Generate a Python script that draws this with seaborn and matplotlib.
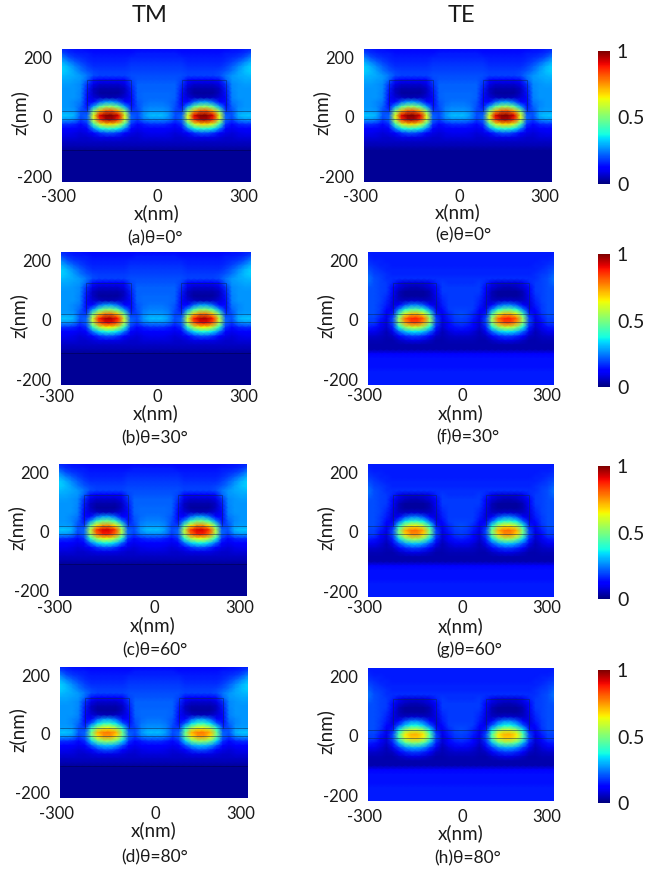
import numpy as np
import matplotlib
matplotlib.use('Agg')
import matplotlib.pyplot as plt
import matplotlib.transforms as mtransforms
import seaborn as sns

# grid of the field, left half of the period (the right half is its mirror image)
x_nodes = [-300, -280, -260, -240, -220, -200, -180, -160, -140, -120, -100, -80, -60, -40, -20, 0]
z_nodes = [230, 215, 200, 185, 170, 155, 140, 125, 110, 95, 80, 65, 50, 35, 20, 5, -10, -25, -40,
           -55, -70, -85, -100, -115, -130, -145, -160, -175, -190, -205, -220]

# normalised |E|
tm_field = [
    [.16, .15, .14, .14, .13, .13, .13, .13, .13, .13, .13, .13, .13, .13, .13, .13],
    [.20, .17, .16, .15, .15, .14, .14, .14, .14, .14, .14, .14, .15, .15, .15, .15],
    [.26, .21, .18, .17, .16, .15, .15, .15, .15, .15, .15, .16, .16, .16, .16, .16],
    [.30, .26, .22, .19, .17, .16, .16, .16, .16, .16, .16, .17, .17, .17, .17, .17],
    [.33, .30, .26, .22, .19, .17, .17, .17, .17, .17, .17, .18, .18, .18, .18, .18],
    [.33, .31, .28, .24, .21, .19, .18, .18, .18, .18, .18, .19, .19, .19, .19, .19],
    [.31, .30, .29, .27, .24, .20, .19, .19, .19, .19, .19, .20, .20, .20, .20, .20],
    [.29, .29, .28, .27, .22, .14, .12, .12, .12, .12, .13, .19, .21, .21, .21, .21],
    [.28, .28, .27, .26, .17, .09, .07, .07, .07, .07, .09, .17, .22, .22, .22, .22],
    [.27, .27, .27, .26, .15, .06, .04, .04, .04, .04, .06, .15, .22, .22, .22, .22],
    [.27, .27, .27, .25, .14, .06, .03, .03, .03, .03, .06, .14, .22, .23, .23, .23],
    [.27, .27, .27, .25, .13, .08, .06, .05, .05, .06, .08, .13, .22, .23, .23, .23],
    [.27, .27, .26, .24, .13, .13, .22, .28, .28, .22, .13, .13, .21, .23, .24, .24],
    [.27, .27, .26, .22, .14, .28, .45, .52, .52, .45, .28, .14, .20, .24, .25, .25],
    [.28, .28, .27, .20, .18, .50, .72, .82, .82, .72, .50, .18, .19, .25, .27, .27],
    [.32, .32, .30, .21, .22, .62, .92, 1.0, 1.0, .92, .62, .22, .20, .27, .31, .31],
    [.27, .27, .25, .18, .22, .60, .85, .95, .95, .85, .60, .22, .18, .24, .26, .26],
    [.17, .17, .16, .13, .17, .42, .60, .68, .68, .60, .42, .17, .13, .15, .17, .17],
    [.12, .12, .11, .10, .12, .25, .36, .40, .40, .36, .25, .12, .10, .11, .12, .12],
    [.10, .10, .09, .08, .09, .12, .17, .20, .20, .17, .12, .09, .08, .09, .10, .10],
    [.08, .08, .08, .07, .07, .08, .09, .09, .09, .09, .08, .07, .07, .08, .08, .08],
    [.06, .06, .06, .06, .06, .06, .06, .06, .06, .06, .06, .06, .06, .06, .06, .06],
    [.045, .045, .045, .045, .045, .045, .045, .045, .045, .045, .045, .045, .045, .045, .045, .045],
    [.02, .02, .02, .02, .02, .02, .02, .02, .02, .02, .02, .02, .02, .02, .02, .02],
    [.02, .02, .02, .02, .02, .02, .02, .02, .02, .02, .02, .02, .02, .02, .02, .02],
    [.02, .02, .02, .02, .02, .02, .02, .02, .02, .02, .02, .02, .02, .02, .02, .02],
    [.02, .02, .02, .02, .02, .02, .02, .02, .02, .02, .02, .02, .02, .02, .02, .02],
    [.02, .02, .02, .02, .02, .02, .02, .02, .02, .02, .02, .02, .02, .02, .02, .02],
    [.02, .02, .02, .02, .02, .02, .02, .02, .02, .02, .02, .02, .02, .02, .02, .02],
    [.02, .02, .02, .02, .02, .02, .02, .02, .02, .02, .02, .02, .02, .02, .02, .02],
    [.02, .02, .02, .02, .02, .02, .02, .02, .02, .02, .02, .02, .02, .02, .02, .02],
]

# same
te_field = [
    [.15, .15, .15, .15, .15, .15, .15, .15, .15, .15, .15, .15, .15, .15, .15, .15],
    [.16, .15, .15, .15, .15, .15, .15, .15, .15, .15, .15, .15, .15, .15, .15, .15],
    [.17, .16, .16, .15, .15, .15, .15, .15, .15, .15, .15, .15, .15, .15, .15, .15],
    [.18, .17, .16, .16, .15, .15, .15, .15, .15, .15, .15, .15, .15, .15, .15, .15],
    [.20, .18, .17, .16, .16, .16, .16, .16, .16, .16, .16, .16, .16, .16, .16, .16],
    [.22, .19, .18, .17, .16, .16, .16, .16, .16, .16, .16, .16, .16, .16, .16, .16],
    [.24, .20, .19, .17, .17, .17, .17, .17, .17, .17, .17, .17, .17, .17, .17, .17],
    [.23, .20, .19, .18, .16, .10, .08, .08, .08, .08, .10, .16, .18, .17, .17, .17],
    [.21, .20, .19, .18, .13, .08, .06, .05, .05, .06, .08, .13, .18, .18, .18, .18],
    [.20, .20, .19, .18, .11, .05, .03, .03, .03, .03, .05, .11, .18, .18, .18, .18],
    [.20, .20, .19, .17, .10, .05, .03, .03, .03, .03, .05, .10, .17, .18, .18, .18],
    [.20, .20, .19, .16, .09, .06, .06, .07, .07, .06, .06, .09, .16, .18, .18, .18],
    [.20, .20, .18, .15, .08, .12, .20, .25, .25, .20, .12, .08, .15, .18, .18, .18],
    [.20, .20, .18, .13, .10, .25, .39, .45, .45, .39, .25, .10, .13, .18, .19, .19],
    [.20, .20, .17, .10, .15, .43, .63, .71, .71, .63, .43, .15, .10, .16, .19, .20],
    [.19, .19, .15, .09, .19, .54, .80, .87, .87, .80, .54, .19, .09, .15, .18, .19],
    [.18, .18, .13, .08, .19, .52, .74, .83, .83, .74, .52, .19, .08, .13, .17, .18],
    [.15, .14, .10, .07, .15, .37, .52, .59, .59, .52, .37, .15, .07, .11, .14, .15],
    [.10, .10, .08, .05, .10, .22, .31, .35, .35, .31, .22, .10, .05, .08, .10, .10],
    [.07, .07, .06, .05, .06, .11, .16, .18, .18, .16, .11, .06, .05, .06, .07, .07],
    [.05, .05, .05, .04, .04, .06, .08, .09, .09, .08, .06, .04, .04, .05, .05, .05],
    [.04, .04, .04, .04, .04, .04, .04, .04, .04, .04, .04, .04, .04, .04, .04, .04],
    [.04, .04, .04, .04, .04, .04, .04, .04, .04, .04, .04, .04, .04, .04, .04, .04],
    [.12, .12, .12, .12, .12, .12, .12, .12, .12, .12, .12, .12, .12, .12, .12, .12],
    [.14, .14, .14, .14, .14, .14, .14, .14, .14, .14, .14, .14, .14, .14, .14, .14],
    [.14, .14, .14, .14, .14, .14, .14, .14, .14, .14, .14, .14, .14, .14, .14, .14],
    [.14, .14, .14, .14, .14, .14, .14, .14, .14, .14, .14, .14, .14, .14, .14, .14],
    [.15, .15, .15, .15, .15, .15, .15, .15, .15, .15, .15, .15, .15, .15, .15, .15],
    [.15, .15, .15, .15, .15, .15, .15, .15, .15, .15, .15, .15, .15, .15, .15, .15],
    [.15, .15, .15, .15, .15, .15, .15, .15, .15, .15, .15, .15, .15, .15, .15, .15],
    [.15, .15, .15, .15, .15, .15, .15, .15, .15, .15, .15, .15, .15, .15, .15, .15],
]

# hot spot per panel: z = 35, 20, 5, -10, -25, -40 at x = -200, -180, -160
core_b = [[.27, .43, .50], [.48, .69, .78], [.59, .88, .96], [.57, .81, .90], [.40, .57, .65], [.24, .34, .38]]
core_c = [[.26, .41, .48], [.46, .66, .75], [.57, .85, .92], [.55, .78, .87], [.39, .55, .62], [.23, .33, .37]]
core_d = [[.22, .35, .41], [.39, .56, .64], [.48, .72, .78], [.47, .66, .74], [.33, .47, .53], [.20, .28, .31]]
core_g = [[.23, .36, .41], [.39, .57, .65], [.49, .73, .79], [.47, .67, .75], [.33, .47, .54], [.20, .28, .32]]
core_h = [[.21, .32, .37], [.36, .52, .59], [.45, .66, .72], [.43, .61, .68], [.30, .43, .49], [.18, .26, .29]]

# grating outline, nm
ridge_x = [80, 220]
ridge_top = 125
film_top = 20
film_bottom = -7
substrate_z = -111

tick_x = [-300, 0, 300]
tick_z = [200, 0, -200]
captions = ['(a)θ=0°', '(b)θ=30°', '(c)θ=60°', '(d)θ=80°', '(e)θ=0°', '(f)θ=30°', '(g)θ=60°', '(h)θ=80°']
fields = [tm_field, tm_field, tm_field, tm_field, tm_field, te_field, te_field, te_field]
cores = [None, core_b, core_c, core_d, None, None, core_g, core_h]

# left, top, width, height, gap to tick row, gap to x(nm), caption x, caption y  (pixels)
panels = [
    (62, 49, 189, 133, 13, 31, 155, 238), (61, 252, 190, 133, 10, 28, 155, 438),
    (59, 464, 188, 132, 10, 29, 155, 650), (60, 667, 188, 131, 14, 32, 155, 857),
    (364, 49, 188, 133, 13, 30, 463, 235), (368, 252, 186, 133, 9, 28, 468, 437),
    (368, 464, 186, 133, 9, 29, 469, 650), (368, 668, 186, 133, 14, 32, 468, 858),
]
W, H = 652, 873


def rect(left, top, w, h):
    return [left / W, 1 - (top + h) / H, w / W, h / H]


def px(value):
    return (value - x_nodes[0]) / 20


def pz(value):
    return (z_nodes[0] - value) / 15


def full_field(base, core):
    half = np.array(base, dtype=float)
    if core is not None:
        core = np.array(core)
        half[13:19, 5:8] = core
        half[13:19, 8:11] = core[:, ::-1]
    return np.hstack([half, half[:, -2::-1]])


sns.set_style('white')
plt.rcParams['font.family'] = ['Lato', 'DejaVu Sans']
plt.rcParams['text.color'] = '#1a1a1a'
plt.rcParams['axes.labelcolor'] = '#1a1a1a'
plt.rcParams['xtick.color'] = '#1a1a1a'
plt.rcParams['ytick.color'] = '#1a1a1a'

fig = plt.figure(figsize=(W / 100, H / 100), dpi=100)

for i, p in enumerate(panels):
    left, top, w, h, tick_gap, label_gap, cap_x, cap_y = p
    ax = fig.add_axes(rect(left, top, w, h))
    right_col = i >= 4
    cax = fig.add_axes(rect(598, top + 2, 12, 133)) if right_col else None
    sns.heatmap(full_field(fields[i], cores[i]), ax=ax, cmap='jet', vmin=0, vmax=1, shading='gouraud',
                cbar=right_col, cbar_ax=cax, cbar_kws={'ticks': [0, 0.5, 1]} if right_col else None,
                xticklabels=False, yticklabels=False)
    ax.set_xlim(0, 30)
    ax.set_ylim(30, 0)

    # grating outline
    line_kw = dict(color='#0a2a55', lw=0.6, alpha=0.6)
    for sign in [-1, 1]:
        xs = sorted(sign * v for v in ridge_x)
        ax.plot([px(xs[0]), px(xs[0]), px(xs[1]), px(xs[1])],
                [pz(film_top), pz(ridge_top), pz(ridge_top), pz(film_top)], **line_kw)
    ax.plot([0, 30], [pz(film_top)] * 2, **line_kw)
    ax.plot([0, 30], [pz(film_bottom)] * 2, **line_kw)
    if i < 4:
        ax.plot([0, 30], [pz(substrate_z)] * 2, color='#000033', lw=0.6, alpha=0.5)

    ax.set_xticks([px(v) for v in tick_x])
    ax.set_xticklabels([str(v) for v in tick_x], rotation=0, fontsize=12)
    ax.set_yticks([pz(v) for v in tick_z])
    ax.set_yticklabels([str(v) for v in tick_z], rotation=0, fontsize=12)
    ax.tick_params(axis='x', length=0, pad=(tick_gap - 6) * 0.72)
    ax.tick_params(axis='y', length=0, pad=7)
    for lab, shift in zip(ax.get_xticklabels(), [-4, 1, -7]):
        lab.set_transform(lab.get_transform() + mtransforms.ScaledTranslation(shift / 100, 0, fig.dpi_scale_trans))

    ax.set_xlabel('x(nm)', fontsize=13.5, va='center')
    ax.xaxis.set_label_coords(0.5, -label_gap / h)
    ax.set_ylabel('z(nm)', fontsize=13.5, va='center')
    ax.yaxis.set_label_coords((20 - 62) / w, 0.52)
    fig.text(cap_x / W, 1 - cap_y / H, captions[i], fontsize=12.5, ha='center', va='center')

    if right_col:
        cax.tick_params(length=0, labelsize=14, pad=5)
        cax.set_yticklabels(['0', '0.5', '1'])

fig.text(150 / W, 1 - 16 / H, 'TM', fontsize=17, ha='center', va='center')
fig.text(461 / W, 1 - 16 / H, 'TE', fontsize=17, ha='center', va='center')

plt.savefig('out.png', dpi=100)
